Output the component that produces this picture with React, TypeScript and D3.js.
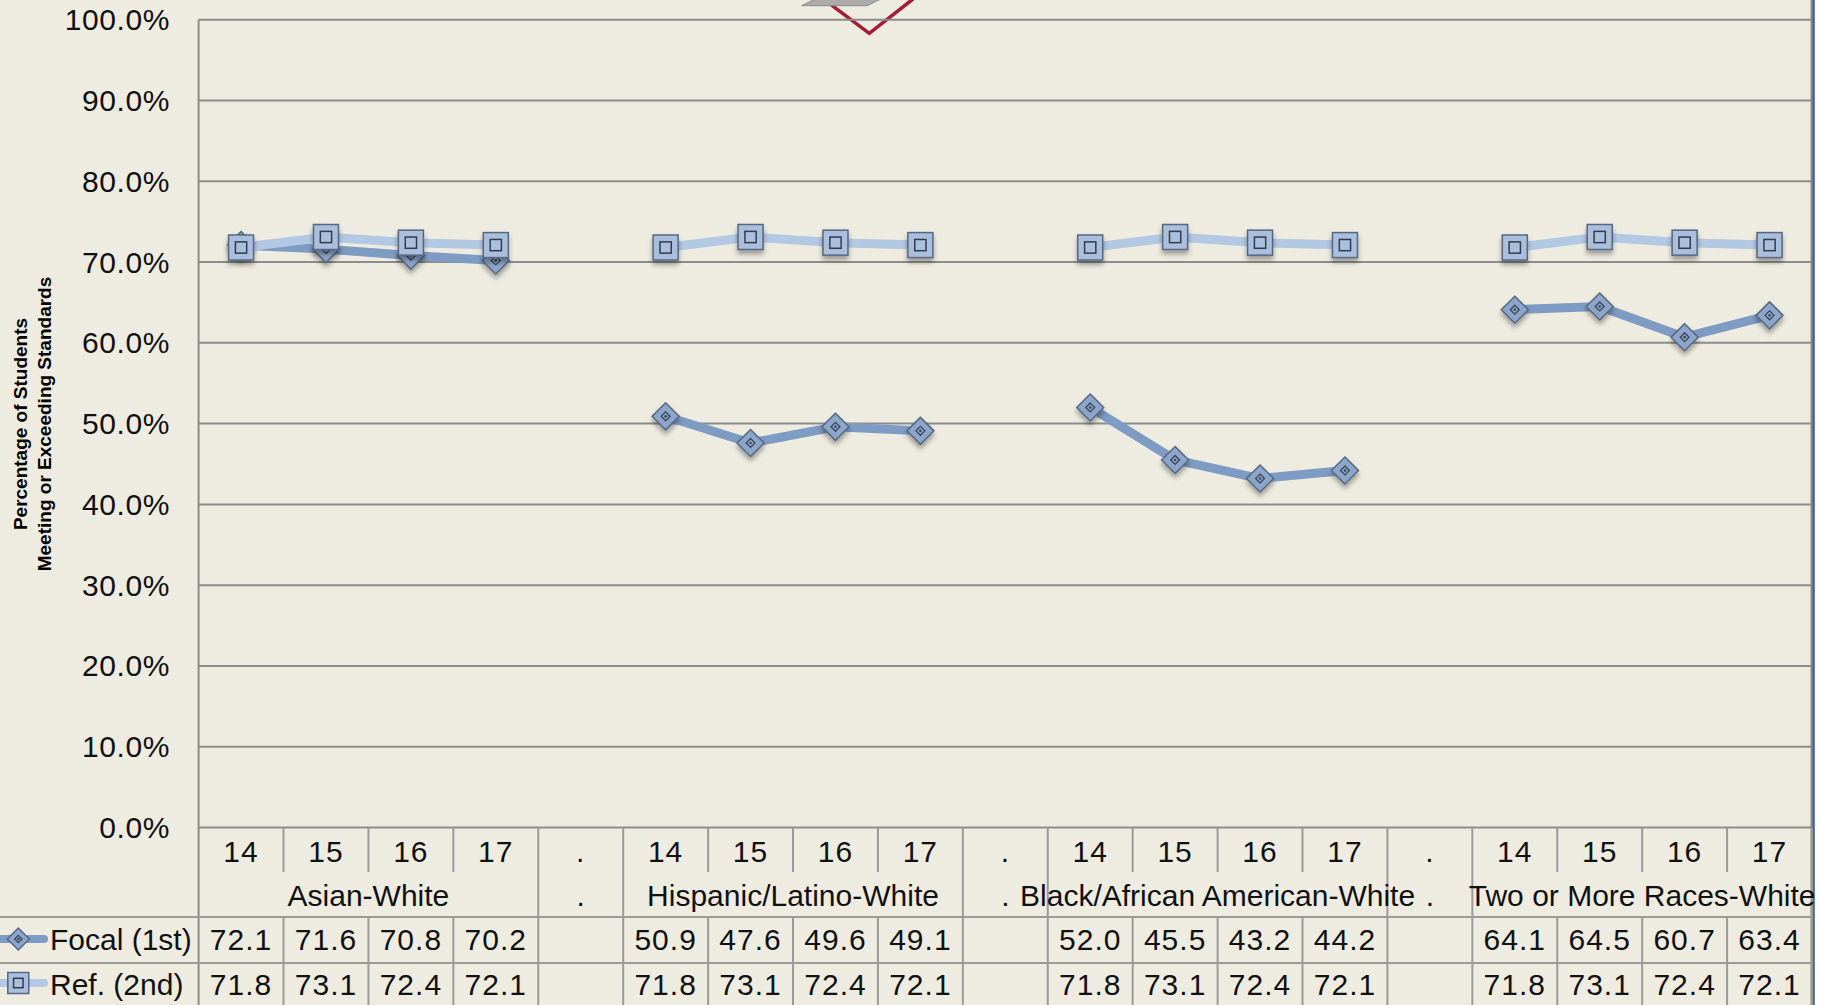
import React from "react";
import * as d3 from "d3";

const years = ["14", "15", "16", "17"];
const groups = [
  "Asian-White",
  "Hispanic/Latino-White",
  "Black/African American-White",
  "Two or More Races-White",
];
const focalAsian = [72.1, 71.6, 70.8, 70.2];
const focalHispanic = [50.9, 47.6, 49.6, 49.1];
const focalBlack = [52.0, 45.5, 43.2, 44.2];
const focalTwoOrMore = [64.1, 64.5, 60.7, 63.4];
const refAsian = [71.8, 73.1, 72.4, 72.1];
const refHispanic = [71.8, 73.1, 72.4, 72.1];
const refBlack = [71.8, 73.1, 72.4, 72.1];
const refTwoOrMore = [71.8, 73.1, 72.4, 72.1];
const focalByGroup = [focalAsian, focalHispanic, focalBlack, focalTwoOrMore];
const refByGroup = [refAsian, refHispanic, refBlack, refTwoOrMore];
const yTicks = [0, 10, 20, 30, 40, 50, 60, 70, 80, 90, 100];
const seriesNames = ["Focal (1st)", "Ref. (2nd)"];
const axisTitle = ["Percentage of Students", "Meeting or Exceeding Standards"];

type Cat = { key: string; year: string; group: number; sep: boolean };

const cats: Cat[] = [];
const focalVals: (number | null)[] = [];
const refVals: (number | null)[] = [];
groups.forEach((g, gi) => {
  years.forEach((yr, yi) => {
    cats.push({ key: `${gi}-${yr}`, year: yr, group: gi, sep: false });
    focalVals.push(focalByGroup[gi][yi]);
    refVals.push(refByGroup[gi][yi]);
  });
  if (gi < groups.length - 1) {
    cats.push({ key: `sep-${gi}`, year: ".", group: -1, sep: true });
    focalVals.push(null);
    refVals.push(null);
  }
});

const W = 1821;
const H = 1005;
const left = 198.6;
const right = 1812;
const yTop = 19.7;
const yBottom = 827.5;
const rowYear = 828;
const rowGroupEnd = 872;
const rowFocal = 917;
const rowRef = 963;

const FONT = "'Liberation Sans', Arial, sans-serif";
const BG = "#eeece1";
const GRID = "#8c8c8c";
const TBL = "#9a9a9a";
const FOCAL_LINE = "#7e9bc4";
const FOCAL_FILL = "#8ca6cb";
const REF_LINE = "#b3c8e3";
const REF_FILL = "#a9bfdd";
const MK_STROKE = "#56677f";

function Diamond({ cx, cy, r }: { cx: number; cy: number; r: number }) {
  const ir = r * 0.33;
  return (
    <g>
      <path
        d={`M${cx},${cy - r}L${cx + r},${cy}L${cx},${cy + r}L${cx - r},${cy}Z`}
        fill={FOCAL_FILL}
        stroke={MK_STROKE}
        strokeWidth={1.5}
      />
      <path
        d={`M${cx},${cy - ir}L${cx + ir},${cy}L${cx},${cy + ir}L${cx - ir},${cy}Z`}
        fill="none"
        stroke="#3a4558"
        strokeWidth={1.3}
      />
      <circle cx={cx} cy={cy} r={1.3} fill="#3a4558" />
    </g>
  );
}

function Square({ cx, cy, s }: { cx: number; cy: number; s: number }) {
  const is = s * 0.45;
  return (
    <g>
      <rect
        x={cx - s / 2}
        y={cy - s / 2}
        width={s}
        height={s}
        fill={REF_FILL}
        stroke={MK_STROKE}
        strokeWidth={1.5}
      />
      <rect
        x={cx - is / 2}
        y={cy - is / 2}
        width={is}
        height={is}
        fill={REF_FILL}
        stroke="#333c4a"
        strokeWidth={1.5}
      />
    </g>
  );
}

export default function App() {
  const x = d3
    .scaleBand<string>()
    .domain(cats.map((c) => c.key))
    .range([left, right])
    .padding(0);
  const bw = x.bandwidth();
  const y = d3.scaleLinear().domain([0, 100]).range([yBottom, yTop]);
  const cx = (i: number) => (x(cats[i].key) as number) + bw / 2;

  const line = d3
    .line<number | null>()
    .defined((d) => d != null)
    .x((_, i) => cx(i))
    .y((d) => y(d as number));

  const vlines: { x: number; full: boolean }[] = [];
  cats.forEach((c, i) => {
    const xr = (x(c.key) as number) + bw;
    const next = cats[i + 1];
    const within = next && !c.sep && !next.sep && next.group === c.group;
    vlines.push({ x: xr, full: !within });
  });

  const fs = 30;
  const numLS = 1;

  return (
    <svg
      width={W}
      height={H}
      style={{ position: "absolute", left: 0, top: 0, display: "block" }}
      fontFamily={FONT}
    >
      <defs>
        <filter id="shadow" x="-50%" y="-50%" width="200%" height="200%">
          <feDropShadow dx="0" dy="4" stdDeviation="2.5" floodColor="#000" floodOpacity="0.35" />
        </filter>
      </defs>
      <rect x={0} y={0} width={W} height={H} fill={BG} />
      <rect x={1815} y={0} width={W - 1815} height={H} fill="#ffffff" />

      {/* artifacts from above */}
      <polyline
        points="822,-2 869.3,33.3 913,-1"
        fill="none"
        stroke="#a51c38"
        strokeWidth={3.5}
      />
      <polygon
        points="801.7,5.7 867,5.7 881,-1 815,-1"
        fill="#ababab"
        stroke="#8a8a8a"
        strokeWidth={1}
      />

      {yTicks.map((t) => (
        <line
          key={t}
          x1={left}
          x2={right}
          y1={y(t)}
          y2={y(t)}
          stroke={GRID}
          strokeWidth={2}
        />
      ))}
      <line x1={left} x2={left} y1={yTop} y2={H} stroke={GRID} strokeWidth={2} />
      <line x1={right - 0.5} x2={right - 0.5} y1={0} y2={H} stroke={GRID} strokeWidth={2} />
      <line x1={1813.5} x2={1813.5} y1={0} y2={H} stroke="#3d6494" strokeWidth={2.5} />

      {yTicks.map((t) => (
        <text
          key={`l${t}`}
          x={170}
          y={y(t) + 10.5}
          textAnchor="end"
          fontSize={fs}
          letterSpacing={0.6}
          fill="#111"
        >
          {d3.format(".1f")(t) + "%"}
        </text>
      ))}

      {axisTitle.map((s, i) => (
        <text
          key={s}
          transform={`translate(${26.5 + i * 24},424) rotate(-90)`}
          textAnchor="middle"
          fontSize={19}
          fontWeight="bold"
          fill="#000"
        >
          {s}
        </text>
      ))}

      <line x1={0} x2={right} y1={rowFocal} y2={rowFocal} stroke={TBL} strokeWidth={2} />
      <line x1={0} x2={right} y1={rowRef} y2={rowRef} stroke={TBL} strokeWidth={2} />

      {vlines.map((v, i) =>
        v.full ? (
          <line key={`v${i}`} x1={v.x} x2={v.x} y1={rowYear} y2={H} stroke={TBL} strokeWidth={2} />
        ) : (
          <g key={`v${i}`}>
            <line x1={v.x} x2={v.x} y1={rowYear} y2={rowGroupEnd} stroke={TBL} strokeWidth={2} />
            <line x1={v.x} x2={v.x} y1={rowFocal} y2={H} stroke={TBL} strokeWidth={2} />
          </g>
        )
      )}

      {cats.map((c, i) => (
        <text key={`y${c.key}`} x={cx(i)} y={862} textAnchor="middle" fontSize={fs} letterSpacing={numLS} fill="#111">
          {c.year}
        </text>
      ))}
      {groups.map((g, gi) => {
        const idx = cats.findIndex((c) => c.group === gi);
        const xc = (x(cats[idx].key) as number) + (bw * 4) / 2;
        return (
          <text key={g} x={xc} y={906} textAnchor="middle" fontSize={fs} fill="#111">
            {g}
          </text>
        );
      })}
      {cats.map((c, i) =>
        c.sep ? (
          <text key={`gs${c.key}`} x={cx(i)} y={906} textAnchor="middle" fontSize={fs} fill="#111">
            .
          </text>
        ) : null
      )}

      {focalVals.map((v, i) =>
        v == null ? null : (
          <text key={`f${i}`} x={cx(i)} y={950} textAnchor="middle" fontSize={fs} letterSpacing={numLS} fill="#111">
            {d3.format(".1f")(v)}
          </text>
        )
      )}
      {refVals.map((v, i) =>
        v == null ? null : (
          <text key={`r${i}`} x={cx(i)} y={995} textAnchor="middle" fontSize={fs} letterSpacing={numLS} fill="#111">
            {d3.format(".1f")(v)}
          </text>
        )
      )}

      <line x1={-5} x2={44} y1={939} y2={939} stroke={FOCAL_LINE} strokeWidth={8} strokeLinecap="round" />
      <Diamond cx={18.3} cy={939} r={11} />
      <text x={50} y={950} fontSize={fs} fill="#111">
        {seriesNames[0]}
      </text>
      <line x1={-5} x2={44} y1={983} y2={983} stroke={REF_LINE} strokeWidth={8} strokeLinecap="round" />
      <Square cx={18.3} cy={983} s={21} />
      <text x={50} y={995} fontSize={fs} fill="#111">
        {seriesNames[1]}
      </text>

      <path d={line(focalVals) || ""} fill="none" stroke={FOCAL_LINE} strokeWidth={9} strokeLinejoin="round" />
      <g filter="url(#shadow)">
        {focalVals.map((v, i) =>
          v == null ? null : <Diamond key={`fd${i}`} cx={cx(i)} cy={y(v)} r={13.5} />
        )}
      </g>

      <path d={line(refVals) || ""} fill="none" stroke={REF_LINE} strokeWidth={9} strokeLinejoin="round" />
      <g filter="url(#shadow)">
        {refVals.map((v, i) =>
          v == null ? null : <Square key={`rs${i}`} cx={cx(i)} cy={y(v)} s={25} />
        )}
      </g>
    </svg>
  );
}
